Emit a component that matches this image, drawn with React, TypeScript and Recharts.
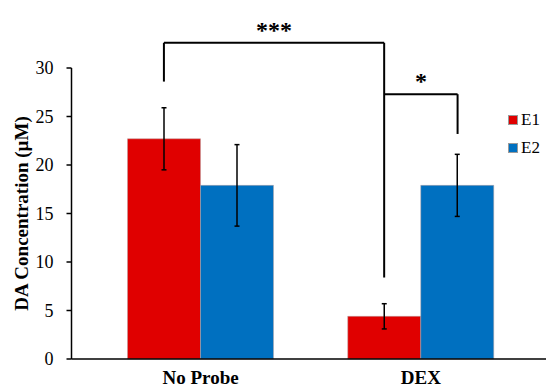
import React from 'react';
import { BarChart, Bar, XAxis, YAxis, ErrorBar, ReferenceLine, Legend } from 'recharts';

const groups = ['No Probe', 'DEX'];
const seriesNames = ['E1', 'E2'];
const seriesColors = ['#E00000', '#0070C0'];
const e1Values = [22.7, 4.4];
const e2Values = [17.9, 17.9];
const e1Errors = [3.2, 1.3];
const e2Errors = [4.2, 3.2];
const yTicks = [0, 5, 10, 15, 20, 25, 30];

// significance brackets, ends given as [group, series]
const brackets = [
  { from: [0, 0], to: [1, 0], fromBottom: 28.6, toBottom: 8.4, top: 32.6, label: '***' },
  { from: [1, 0], to: [1, 1], fromBottom: 27.3, toBottom: 23.2, top: 27.3, label: '*' },
];

// each group takes 6 units on a numeric x axis: gap | bar | bar | gap
const UNITS = 6;
const groupPos = (g: number) => g * UNITS + UNITS / 2;
const barCentre = (g: number, s: number) => groupPos(g) - 1 + s * 2;

const data = groups.map((g, i) => ({
  group: g,
  pos: groupPos(i),
  E1: e1Values[i],
  E2: e2Values[i],
  errE1: e1Errors[i],
  errE2: e2Errors[i],
}));

const serif = '"Liberation Serif", "Times New Roman", serif';

const renderLegend = (props: any) => (
  <div style={{ fontFamily: serif }}>
    {(props.payload || []).map((p: any) => (
      <div key={p.value} style={{ display: 'flex', alignItems: 'center', height: 28 }}>
        <span
          style={{
            display: 'inline-block',
            width: 8,
            height: 8,
            background: p.color,
            border: '0.5px solid #9a9a9a',
            marginRight: 3,
          }}
        />
        <span style={{ fontSize: 17, color: '#000' }}>{p.value}</span>
      </div>
    ))}
  </div>
);

const YLabel = (props: any) => {
  const vb = props.viewBox || {};
  const cy = vb.y + vb.height / 2;
  return (
    <text
      x={28}
      y={cy}
      transform={`rotate(-90, 28, ${cy})`}
      textAnchor="middle"
      fontFamily={serif}
      fontWeight="bold"
      fontSize={19}
      fill="#000"
    >
      DA Concentration (µM)
    </text>
  );
};

export default function App() {
  const lineStyle = { stroke: '#000', strokeWidth: 2 };
  return (
    <div style={{ position: 'absolute', left: 0, top: 0, background: '#fff' }}>
      <BarChart
        width={546}
        height={387}
        data={data}
        margin={{ top: 68, right: 0, left: 0, bottom: 0 }}
        barGap={0}
        barSize={73}
      >
        <XAxis
          dataKey="pos"
          type="number"
          domain={[0, groups.length * UNITS]}
          ticks={groups.map((_, i) => groupPos(i))}
          interval={0}
          tickFormatter={(v: number) => groups[Math.round((v - UNITS / 2) / UNITS)]}
          padding={{ left: 19, right: 15 }}
          height={28}
          tickLine={false}
          tickSize={0}
          tickMargin={12}
          axisLine={{ stroke: '#000', strokeWidth: 1.5 }}
          tick={{ fill: '#000', fontSize: 19, fontWeight: 'bold', fontFamily: serif }}
        />
        <YAxis
          width={71.5}
          domain={[0, 30]}
          ticks={yTicks}
          interval={0}
          tickSize={5}
          tickMargin={13}
          axisLine={{ stroke: '#000', strokeWidth: 1.5 }}
          tickLine={{ stroke: '#000', strokeWidth: 1.5 }}
          tick={{ fill: '#000', fontSize: 18, fontFamily: serif }}
          label={{ content: <YLabel /> }}
        />
        <Legend
          layout="horizontal"
          verticalAlign="middle"
          align="center"
          content={renderLegend}
          wrapperStyle={{ position: 'absolute', left: 508, top: 105.5, width: 40 }}
        />
        {seriesNames.map((s, i) => (
          <Bar
            key={s}
            dataKey={s}
            name={s}
            fill={seriesColors[i]}
            stroke="#b7a3a3"
            strokeWidth={0.5}
            isAnimationActive={false}
          >
            <ErrorBar
              dataKey={`err${s}`}
              width={2.5}
              stroke="#000"
              strokeWidth={1.5}
              isAnimationActive={false}
            />
          </Bar>
        ))}
        {brackets.map((b, i) => {
          const x1 = barCentre(b.from[0], b.from[1]);
          const x2 = barCentre(b.to[0], b.to[1]);
          return (
            <React.Fragment key={i}>
              {b.fromBottom < b.top && (
                <ReferenceLine
                  ifOverflow="visible"
                  segment={[{ x: x1, y: b.fromBottom }, { x: x1, y: b.top }]}
                  {...lineStyle}
                />
              )}
              <ReferenceLine
                ifOverflow="visible"
                segment={[{ x: x1, y: b.top }, { x: x2, y: b.top }]}
                {...lineStyle}
                label={{
                  value: b.label,
                  position: 'top',
                  offset: 5,
                  fill: '#000',
                  fontSize: 24,
                  fontWeight: 'bold',
                  fontFamily: serif,
                }}
              />
              <ReferenceLine
                ifOverflow="visible"
                segment={[{ x: x2, y: b.toBottom }, { x: x2, y: b.top }]}
                {...lineStyle}
              />
            </React.Fragment>
          );
        })}
      </BarChart>
    </div>
  );
}
